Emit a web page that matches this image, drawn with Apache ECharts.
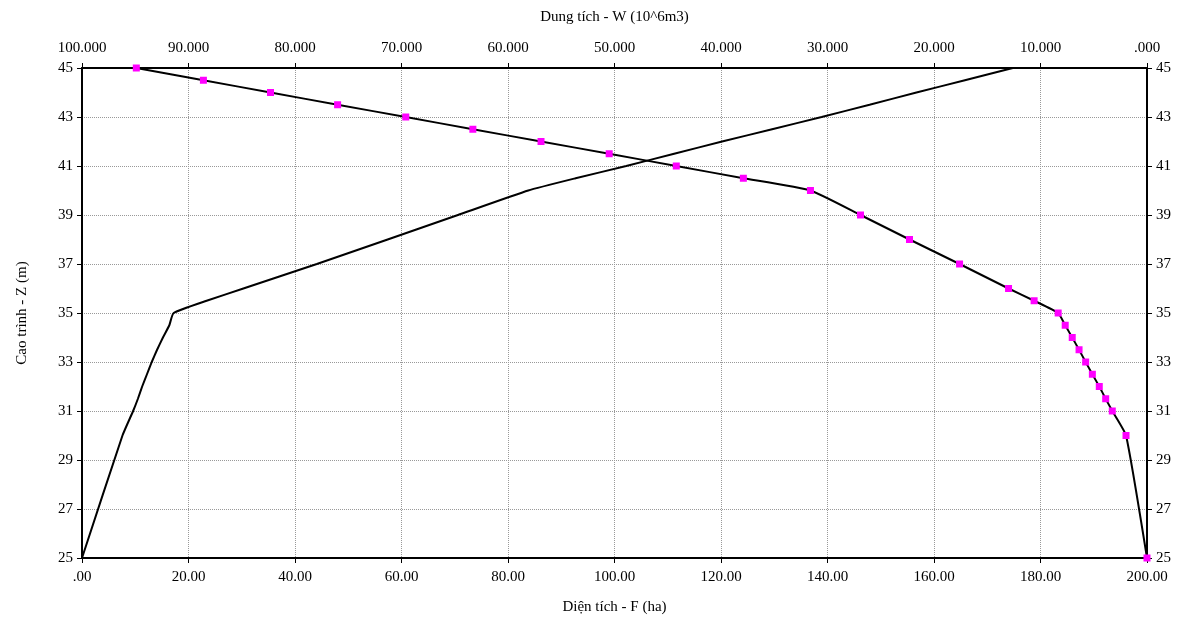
<!DOCTYPE html>
<html>
<head>
<meta charset="utf-8">
<script src="https://cdn.jsdelivr.net/npm/echarts@6/dist/echarts.min.js"></script>
<style>
  html, body { margin: 0; padding: 0; background: #fff; }
  #main { width: 1190px; height: 624px; }
</style>
</head>
<body>
<div id="main"></div>
<script>
// Cao trình Z (m)
const zLevels = [25, 30, 31, 31.5, 32, 32.5, 33, 33.5, 34, 34.5, 35, 35.5, 36, 37, 38, 39, 40, 40.5, 41, 41.5, 42, 42.5, 43, 43.5, 44, 44.5, 45];
// Diện tích F (ha)
const areaF = [0, 7.6, 9.6, 10.5, 11.3, 12.2, 13.1, 14.1, 15.2, 16.4, 17.2, 23.4, 30.3, 44.1, 57.4, 70.6, 83.8, 92.7, 102.2, 111.2, 120.2, 129.6, 138.9, 147.9, 156.7, 165.8, 174.8];
// Dung tích W (10^6 m3)
const volumeW = [0, 1.97, 3.26, 3.88, 4.48, 5.13, 5.76, 6.38, 7.02, 7.68, 8.34, 10.6, 13.0, 17.6, 22.3, 26.9, 31.6, 37.9, 44.2, 50.5, 56.9, 63.3, 69.6, 76.0, 82.3, 88.6, 94.9];

const fontFam = '"Liberation Serif", "Times New Roman", serif';
const txt = { color: '#000', fontFamily: fontFam, fontSize: 15 };

function stripZero(v, d) {
  return v.toFixed(d).replace(/^0/, '');
}

var myChart = echarts.init(document.getElementById('main'));
myChart.setOption({
  animation: false,
  grid: { left: 82, right: 43, top: 68, bottom: 66 },
  xAxis: [{
    type: 'value',
    position: 'bottom',
    min: 0, max: 200, interval: 20,
    name: 'Diện tích - F (ha)',
    nameLocation: 'middle',
    nameGap: 42,
    nameTextStyle: txt,
    axisLine: { show: true, onZero: false, lineStyle: { color: '#000', width: 2 } },
    axisTick: { show: true, length: 5, lineStyle: { color: '#000' } },
    axisLabel: Object.assign({ margin: 12, formatter: v => stripZero(v, 2) }, txt),
    splitLine: { show: true, lineStyle: { color: '#999', type: 'dotted', width: 1 } }
  }, {
    type: 'value',
    position: 'top',
    inverse: true,
    min: 0, max: 100, interval: 10,
    name: 'Dung tích - W (10^6m3)',
    nameLocation: 'middle',
    nameGap: 43,
    nameTextStyle: txt,
    axisLine: { show: true, onZero: false, lineStyle: { color: '#000', width: 2 } },
    axisTick: { show: true, length: 5, lineStyle: { color: '#000' } },
    axisLabel: Object.assign({ margin: 12, formatter: v => stripZero(v, 3) }, txt),
    splitLine: { show: false }
  }],
  yAxis: [{
    type: 'value',
    position: 'left',
    min: 25, max: 45, interval: 2,
    name: 'Cao trình - Z (m)',
    nameLocation: 'middle',
    nameGap: 52,
    nameTextStyle: txt,
    axisLine: { show: true, onZero: false, lineStyle: { color: '#000', width: 2 } },
    axisTick: { show: true, length: 5, lineStyle: { color: '#000' } },
    axisLabel: Object.assign({ margin: 9 }, txt),
    splitLine: { show: true, lineStyle: { color: '#999', type: 'dotted', width: 1 } }
  }, {
    type: 'value',
    position: 'right',
    min: 25, max: 45, interval: 2,
    axisLine: { show: true, onZero: false, lineStyle: { color: '#000', width: 2 } },
    axisTick: { show: true, length: 5, lineStyle: { color: '#000' } },
    axisLabel: Object.assign({ margin: 9 }, txt),
    splitLine: { show: false }
  }],
  series: [{
    name: 'F',
    type: 'line',
    xAxisIndex: 0, yAxisIndex: 0,
    data: zLevels.map((z, i) => [areaF[i], z]),
    showSymbol: false,
    smooth: 0.15,
    lineStyle: { color: '#000', width: 2 }
  }, {
    name: 'W',
    type: 'line',
    xAxisIndex: 1, yAxisIndex: 0,
    data: zLevels.map((z, i) => [volumeW[i], z]),
    symbol: 'rect',
    symbolSize: 7,
    smooth: 0.15,
    itemStyle: { color: '#ff00ff' },
    lineStyle: { color: '#000', width: 2 },
    z: 3
  }]
});
</script>
</body>
</html>
